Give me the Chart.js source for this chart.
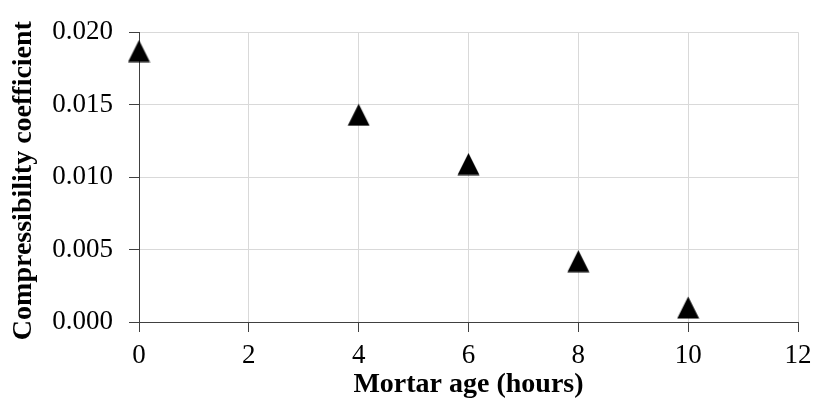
<!DOCTYPE html>
<html>
<head>
<meta charset="utf-8">
<script src="https://cdn.jsdelivr.net/npm/chart.js@4/dist/chart.umd.min.js"></script>
<style>
  html, body { margin: 0; padding: 0; background: #fff; }
  #wrap { width: 813px; height: 399px; }
</style>
</head>
<body>
<div id="wrap"><canvas id="chart" width="813" height="399"></canvas></div>
<script>
// values
const ages = [0, 4, 6, 8, 10];
const coefficients = [0.0187, 0.0143, 0.0109, 0.0042, 0.0010];
const xTitle = "Mortar age (hours)";
const yTitle = "Compressibility coefficient ";

// Excel-like triangle marker, centred on its box
const marker = document.createElement("canvas");
marker.width = 23;
marker.height = 23;
const mctx = marker.getContext("2d");
mctx.fillStyle = "#000";
mctx.beginPath();
mctx.moveTo(11.5, 0.5);
mctx.lineTo(22.5, 22.5);
mctx.lineTo(0.5, 22.5);
mctx.closePath();
mctx.fill();

const serif = "'Liberation Serif', 'Times New Roman', serif";
const axisColor = "#404040";
const gridColor = "#d9d9d9";

new Chart(document.getElementById("chart"), {
  type: "scatter",
  data: {
    datasets: [{
      data: ages.map((a, i) => ({ x: a, y: coefficients[i] })),
      pointStyle: marker,
      pointRadius: 11,
      pointHoverRadius: 11,
      clip: false
    }]
  },
  options: {
    responsive: false,
    animation: false,
    events: [],
    layout: { padding: { left: 0, right: 15, top: 26, bottom: 0 } },
    plugins: { legend: { display: false }, tooltip: { enabled: false } },
    scales: {
      x: {
        type: "linear",
        min: 0,
        max: 12,
        ticks: { stepSize: 2, color: "#000", padding: 8, font: { family: serif, size: 27 } },
        grid: { color: gridColor, tickColor: axisColor, tickLength: 10 },
        border: { color: axisColor, width: 1 },
        title: {
          display: true, text: xTitle, color: "#000",
          font: { family: serif, size: 28, weight: "bold" },
          padding: { top: 0, bottom: -3 }
        },
        afterFit: s => { s.height = 77; s.paddingRight = 13; s.paddingLeft = 0; }
      },
      y: {
        min: 0,
        max: 0.02,
        ticks: {
          stepSize: 0.005, color: "#000", padding: 16,
          font: { family: serif, size: 27 },
          callback: v => v.toFixed(3)
        },
        grid: { color: gridColor, tickColor: axisColor, tickLength: 10 },
        border: { color: axisColor, width: 1 },
        title: {
          display: true, text: yTitle, color: "#000",
          font: { family: serif, size: 28, weight: "bold" },
          padding: { top: 7, bottom: 0 }
        },
        afterFit: s => { s.width = 139; }
      }
    }
  }
});
</script>
</body>
</html>
